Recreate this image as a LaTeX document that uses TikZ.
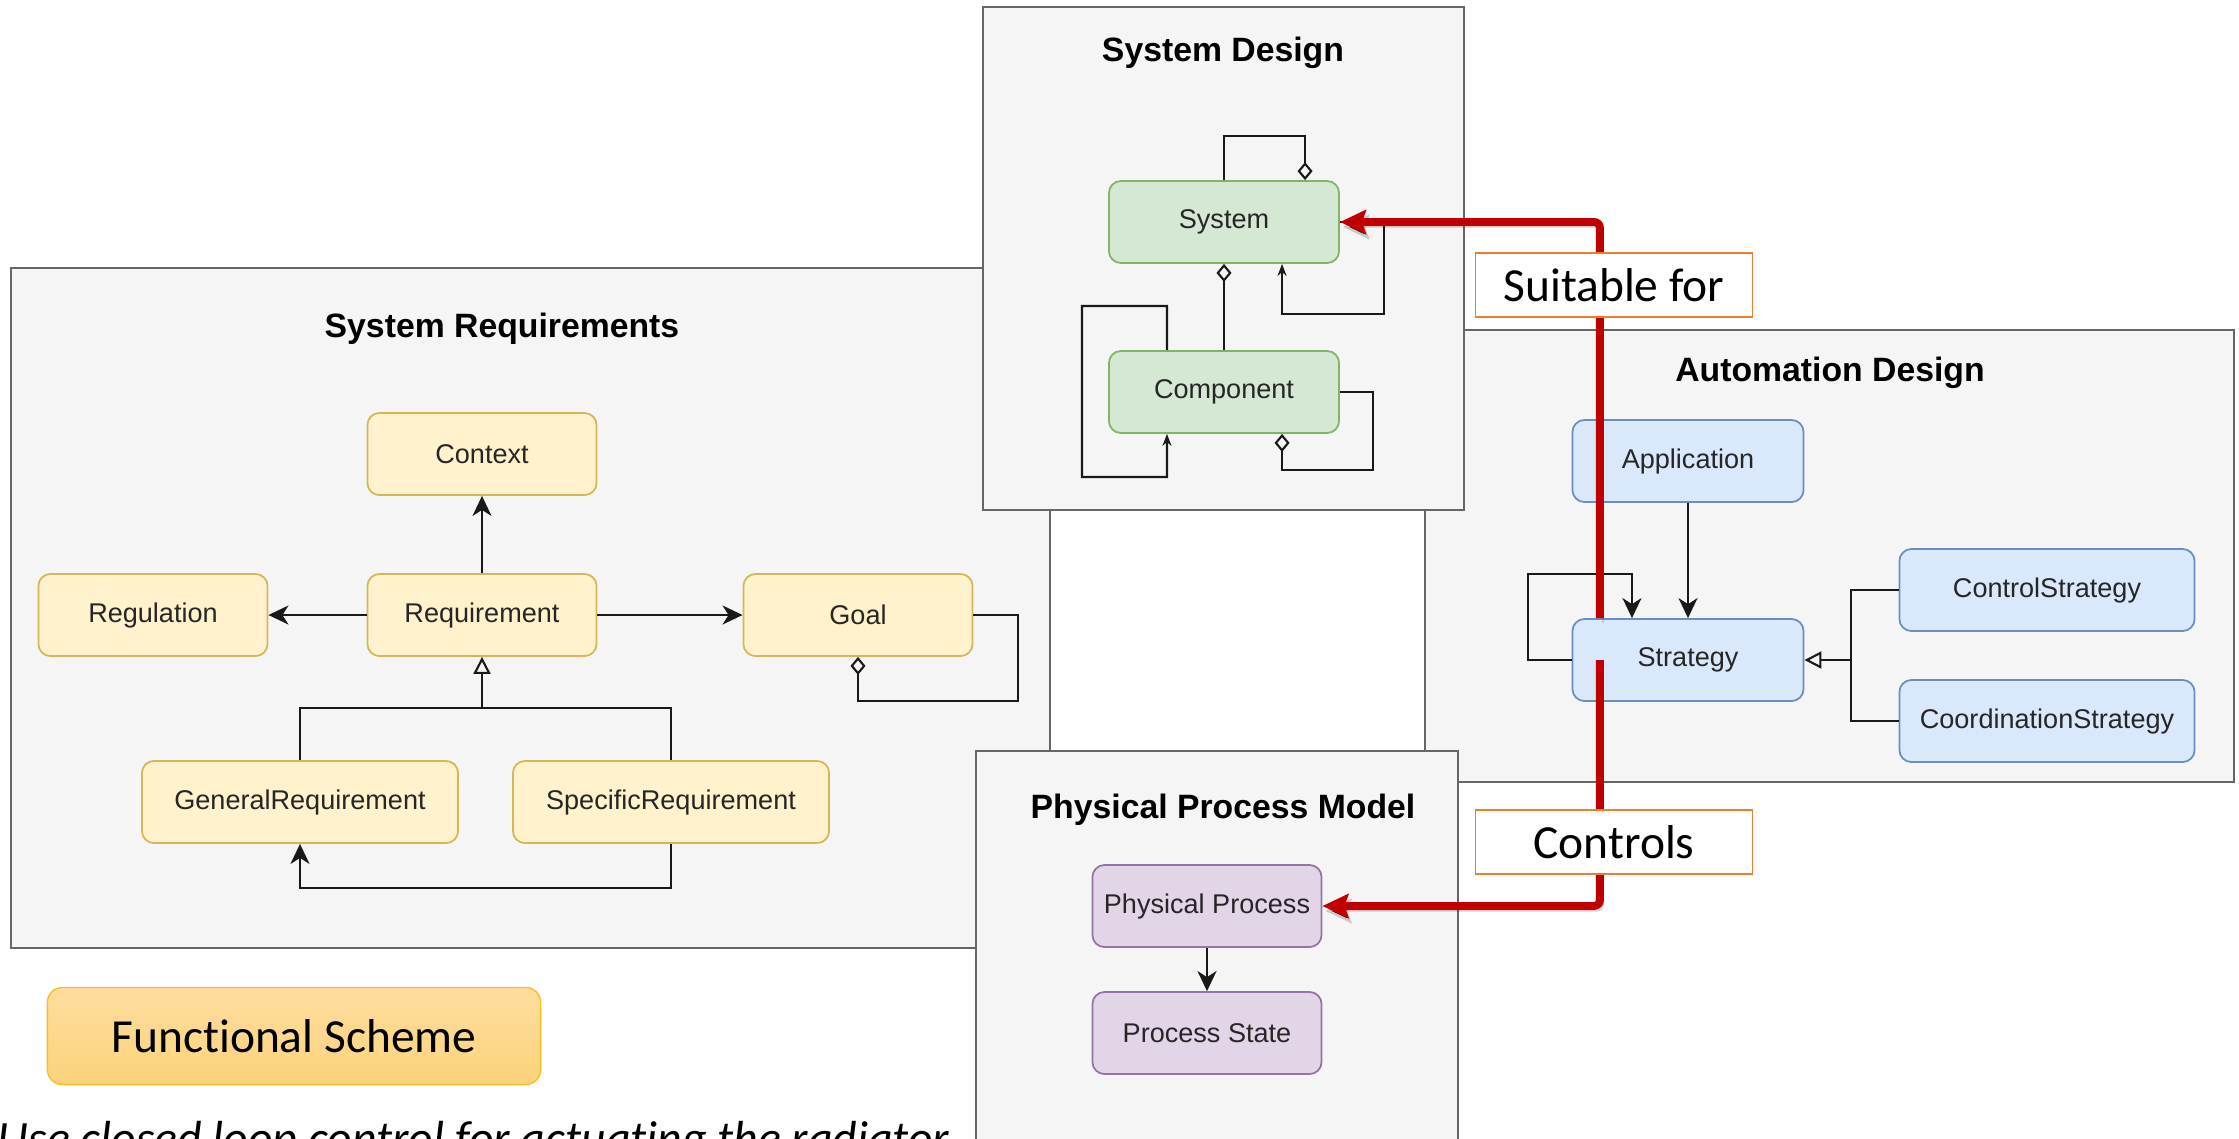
\documentclass[tikz,border=0pt]{standalone}
\usepackage{fontspec}
\setmainfont{Liberation Sans}
\newfontfamily\calibri[Ligatures=NoCommon]{Carlito}
\usetikzlibrary{arrows.meta}

\definecolor{panelfill}{HTML}{F5F5F5}
\definecolor{panelline}{HTML}{666666}
\definecolor{reqfill}{HTML}{FFF2CC}
\definecolor{reqline}{HTML}{D6B656}
\definecolor{sysfill}{HTML}{D5E8D4}
\definecolor{sysline}{HTML}{82B366}
\definecolor{stratfill}{HTML}{DAE8FC}
\definecolor{stratline}{HTML}{6C8EBF}
\definecolor{procfill}{HTML}{E1D5E7}
\definecolor{procline}{HTML}{9673A6}
\definecolor{linkred}{HTML}{C00000}
\definecolor{lblline}{HTML}{ED7D31}
\definecolor{schemetop}{HTML}{FEDE9E}
\definecolor{schemebot}{HTML}{FCD27B}
\definecolor{schemeline}{HTML}{F9BE27}

\begin{document}
\begin{tikzpicture}[x=0.01cm, y=-0.01cm]
	\tikzstyle{panel} = [draw=panelline, fill=panelfill, line width=0.6pt]
	\tikzstyle{paneltitle} = [font=\fontsize{9.6}{11}\selectfont\bfseries]
	\tikzstyle{cls} = [draw, rounded corners=0.12cm, line width=0.5pt, minimum width=2.29cm, minimum height=0.82cm, inner sep=0pt, text=black!85, font=\fontsize{7.7}{9}\selectfont]
	\tikzstyle{req} = [cls, fill=reqfill, draw=reqline]
	\tikzstyle{sys} = [cls, fill=sysfill, draw=sysline]
	\tikzstyle{strat} = [cls, fill=stratfill, draw=stratline]
	\tikzstyle{proc} = [cls, fill=procfill, draw=procline]
	\tikzstyle{conn} = [draw=black!90, line width=0.6pt]
	\tikzstyle{toarrow} = [-{Stealth[length=0.2cm, width=0.19cm, inset=0.06cm]}]
	\tikzstyle{tosmall} = [-{Stealth[length=0.12cm, width=0.09cm]}]
	\tikzstyle{todiamond} = [-{Diamond[open, length=0.18cm, width=0.15cm]}]
	\tikzstyle{totriangle} = [-{Triangle[open, length=0.17cm, width=0.17cm]}]
	\tikzstyle{link} = [draw=linkred, line width=0.08cm, rounded corners=0.06cm, -{Stealth[length=0.26cm, width=0.24cm, inset=0.04cm]}, preaction={draw=black, draw opacity=0.18, transform canvas={shift={(0.03cm,-0.05cm)}}}]
	\tikzstyle{linklabel} = [draw=lblline, fill=white, line width=0.015cm, minimum width=2.77cm, minimum height=0.64cm, inner sep=0pt, font=\calibri\fontsize{13.5}{16}\selectfont]
	\tikzstyle{scheme} = [draw=schemeline, top color=schemetop, bottom color=schemebot, rounded corners=0.15cm, line width=0.4pt, minimum width=4.93cm, minimum height=0.97cm, inner sep=0pt, font=\calibri\fontsize{13.5}{16}\selectfont]

	\useasboundingbox (0,0) rectangle (2239,1138);
	\clip (0,0) rectangle (2239,1138);

	% requirements
	\draw[panel] (11,268) rectangle (1050,948);
	\node[paneltitle] (reqtitle) at (502,329) {System Requirements};
	\node[req] (context) at (482,454) {Context};
	\node[req] (regulation) at (153,615) {Regulation};
	\node[req] (requirement) at (482,615) {Requirement};
	\node[req] (goal) at (858,615) {Goal};
	\node[req, minimum width=3.16cm] (generalreq) at (300,802) {GeneralRequirement};
	\node[req, minimum width=3.16cm] (specificreq) at (671,802) {SpecificRequirement};
	\draw[conn, toarrow] (requirement) -- (context);
	\draw[conn, toarrow] (requirement) -- (regulation);
	\draw[conn, toarrow] (requirement) -- (goal);
	\draw[conn, totriangle] (generalreq.north) |- (482,708) -- (requirement.south);
	\draw[conn] (specificreq.north) |- (482,708);
	\draw[conn, todiamond] (goal.east) -| (1018,701) -| (goal.south);
	\draw[conn, toarrow] (specificreq.south) -- (671,888) -| (generalreq.south);

	% automation
	\draw[panel] (1425,330) rectangle (2234,782);
	\node[paneltitle] (stratitle) at (1830,373) {Automation Design};
	\node[strat, minimum width=2.31cm] (application) at (1688,461) {Application};
	\node[strat, minimum width=2.31cm] (strategy) at (1688,660) {Strategy};
	\node[strat, minimum width=2.95cm] (controlstrat) at (2047,590) {ControlStrategy};
	\node[strat, minimum width=2.95cm] (coordstrat) at (2047,721) {CoordinationStrategy};
	\draw[conn, toarrow] (application) -- (strategy);
	\draw[conn, toarrow] (strategy.west) -| (1528,574) -| ([xshift=-0.56cm]strategy.north);
	\draw[conn, totriangle] (controlstrat.west) -| (1851,660) -- (strategy.east);
	\draw[conn] (coordstrat.west) -| (1851,660);

	% system design
	\draw[panel] (983,7) rectangle (1464,510);
	\node[paneltitle] (systitle) at (1223,53) {System Design};
	\node[sys, minimum width=2.30cm] (system) at (1224,222) {System};
	\node[sys, minimum width=2.30cm] (component) at (1224,392) {Component};
	\draw[conn, todiamond] (system.north) -- (1224,136) -| ([xshift=0.81cm]system.north);
	\draw[conn, todiamond] (component.north) -- (system.south);
	\draw[conn, tosmall] (system.east) -| (1384,314) -| ([xshift=0.58cm]system.south);
	\draw[conn, tosmall] ([xshift=-0.57cm]component.north) |- (1082,306) |- (1167,477) -- ([xshift=-0.57cm]component.south);
	\draw[conn, todiamond] (component.east) -| (1373,470) -| ([xshift=0.58cm]component.south);

	% physical process
	\draw[panel] (976,751) rectangle (1458,1160);
	\node[paneltitle] (proctitle) at (1223,810) {Physical Process Model};
	\node[proc] (physproc) at (1207,906) {Physical Process};
	\node[proc] (procstate) at (1207,1033) {Process State};
	\draw[conn, toarrow] (physproc) -- (procstate);

	% links between the models
	\draw[link] ([xshift=-0.88cm]strategy.north) |- (system.east);
	\draw[link] ([xshift=-0.88cm]strategy.center) |- (physproc.east);
	\node[linklabel] (suitable) at (1614,285) {Suitable for};
	\node[linklabel] (controls) at (1614,842) {Controls};

	\node[scheme] (scheme) at (294,1036) {Functional Scheme};
	\node[anchor=base west, inner sep=0pt, font=\calibri\itshape\fontsize{13.6}{16}\selectfont] (hint) at (-3,1154) {Use closed loop control for actuating the radiator};
\end{tikzpicture}
\end{document}
